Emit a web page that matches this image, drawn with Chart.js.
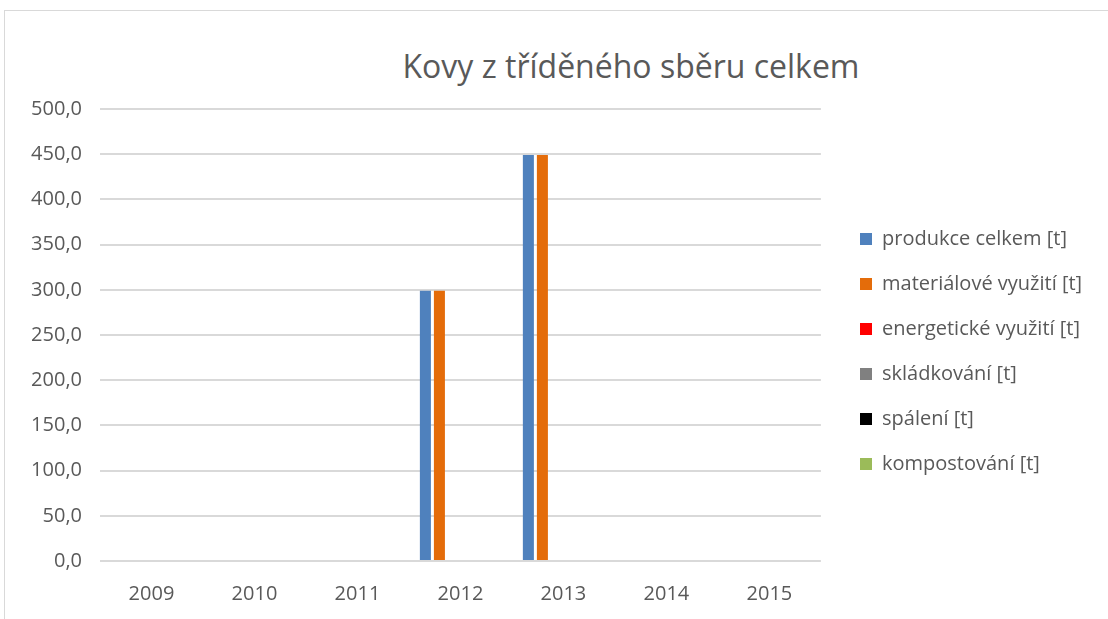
<!DOCTYPE html>
<html>
<head>
<meta charset="utf-8">
<script src="https://cdn.jsdelivr.net/npm/chart.js@4"></script>
<style>
  html, body { margin: 0; padding: 0; background: #fff; overflow: hidden; }
  #frame {
    position: absolute; left: 4px; top: 10px;
    width: 1400px; height: 800px;
    border: 1px solid #d9d9d9;
  }
  #title {
    position: absolute; left: 0; top: 33px; width: 1252px;
    text-align: center;
    font-family: "Open Sans", sans-serif; font-size: 32px;
    color: #595959; white-space: nowrap;
  }
  #wrap { position: absolute; left: 0; top: 0; width: 1103px; height: 608px; }
</style>
</head>
<body>
<div id="frame">
  <div id="title">Kovy z tříděného sběru celkem</div>
  <div id="wrap"><canvas id="chart"></canvas></div>
</div>
<script>
// Data
const years = ['2009', '2010', '2011', '2012', '2013', '2014', '2015'];
const produkce = [0, 0, 0, 299, 449, 0, 0];
const materialove = [0, 0, 0, 299, 449, 0, 0];
const energeticke = [0, 0, 0, 0, 0, 0, 0];
const skladkovani = [0, 0, 0, 0, 0, 0, 0];
const spaleni = [0, 0, 0, 0, 0, 0, 0];
const kompostovani = [0, 0, 0, 0, 0, 0, 0];
const seriesNames = ['produkce celkem [t]', 'materiálové využití [t]', 'energetické využití [t]',
                     'skládkování [t]', 'spálení [t]', 'kompostování [t]'];
const seriesColors = ['#4f81bd', '#e46c0a', '#ff0000', '#808080', '#000000', '#9bbb59'];
const yMin = 0, yMax = 500, yStep = 50;

const FONT = '"Open Sans", sans-serif';
const TEXT = '#595959';

// moves the legend to where the reference has it
const legendNudge = {
    id: 'legendNudge',
    afterLayout(chart) {
        const lg = chart.legend;
        const w = lg.right - lg.left;
        const h = lg.bottom - lg.top;
        lg.left = 855 - 25;
        lg.right = lg.left + w;
        lg.top = 193;
        lg.bottom = lg.top + h;
    }
};

const ctx = document.getElementById('chart').getContext('2d');
const allSeries = [produkce, materialove, energeticke, skladkovani, spaleni, kompostovani];

new Chart(ctx, {
    type: 'bar',
    data: {
        labels: years,
        datasets: allSeries.map((vals, i) => ({
            label: seriesNames[i],
            data: vals,
            backgroundColor: seriesColors[i],
            borderWidth: 0,
            categoryPercentage: 0.817,
            barPercentage: 0.786
        }))
    },
    options: {
        responsive: true,
        maintainAspectRatio: false,
        animation: false,
        layout: { padding: { top: 98, left: 0, right: 30, bottom: 0 } },
        scales: {
            x: {
                grid: { display: false },
                border: { display: false },
                ticks: { color: TEXT, font: { family: FONT, size: 20 }, padding: 13 },
                afterFit: (scale) => { scale.height = 58; }
            },
            y: {
                min: yMin,
                max: yMax,
                grid: { color: '#d9d9d9', lineWidth: 2, drawTicks: false },
                border: { display: false },
                ticks: {
                    stepSize: yStep,
                    color: TEXT,
                    font: { family: FONT, size: 20 },
                    padding: 18,
                    callback: (v) => v.toFixed(1).replace('.', ',')
                },
                afterFit: (scale) => { scale.width = 95; }
            }
        },
        plugins: {
            title: { display: false },
            tooltip: { enabled: false },
            legend: {
                position: 'right',
                align: 'start',
                labels: {
                    boxWidth: 12,
                    boxHeight: 12,
                    padding: 25,
                    color: TEXT,
                    font: { family: FONT, size: 20 }
                }
            }
        }
    },
    plugins: [legendNudge]
});
</script>
</body>
</html>
